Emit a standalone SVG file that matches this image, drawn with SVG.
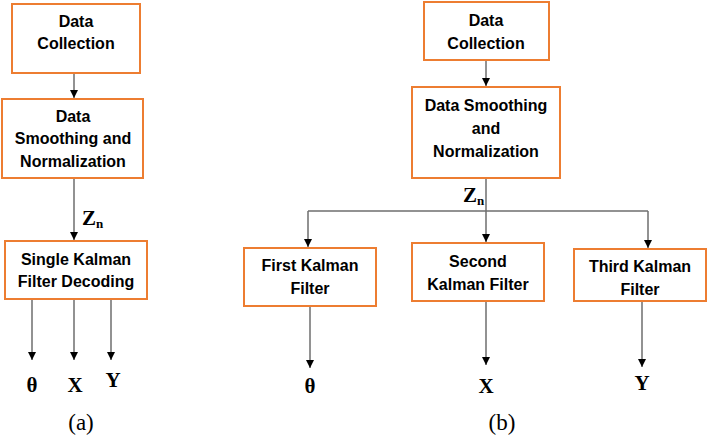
<svg xmlns="http://www.w3.org/2000/svg" width="708" height="440" viewBox="0 0 708 440">
<defs>
<marker id="ah" viewBox="0 0 10 10" refX="10" refY="5" markerWidth="8" markerHeight="8" markerUnits="userSpaceOnUse" orient="auto">
<path d="M0,0 L10,5 L0,10 z" fill="#000"/>
</marker>
<style>
.box{fill:#fff;stroke:#ED7D31;stroke-width:2}
.t{font-family:"Liberation Sans",Arial,sans-serif;font-weight:bold;font-size:16px;fill:#000;text-anchor:middle}
.c{fill:none;stroke:#6e6e6e;stroke-width:1.5}
.a{marker-end:url(#ah)}
.g{font-family:"Liberation Serif","Times New Roman",serif;font-weight:bold;font-size:21px;fill:#000;text-anchor:middle}
.s{font-family:"Liberation Serif","Times New Roman",serif;font-weight:bold;font-size:13px}
.cap{font-family:"Liberation Serif","Times New Roman",serif;font-size:23px;fill:#000;text-anchor:middle}
</style>
</defs>
<rect width="708" height="440" fill="#fff"/>

<g id="connectors">
<line class="c a" x1="74" y1="73" x2="74" y2="98"/>
<line class="c a" x1="74" y1="178" x2="74" y2="240"/>
<line class="c a" x1="32" y1="299" x2="32" y2="360"/>
<line class="c a" x1="74" y1="299" x2="74" y2="360"/>
<line class="c a" x1="111" y1="299" x2="111" y2="360"/>

<line class="c a" x1="486" y1="60" x2="486" y2="86"/>
<line class="c a" x1="486" y1="178" x2="486" y2="242"/>
<polyline class="c a" points="308,211 308,211 308,247"/>
<line class="c" x1="308" y1="211" x2="648" y2="211"/>
<line class="c a" x1="648" y1="211" x2="648" y2="248"/>
<line class="c a" x1="310" y1="306" x2="310" y2="368"/>
<line class="c a" x1="486" y1="301" x2="486" y2="365"/>
<line class="c a" x1="642" y1="301" x2="642" y2="367"/>
</g>

<g id="a-collection">
<rect class="box" x="12" y="4" width="128" height="69"/>
<text class="t" x="76" y="27">Data</text>
<text class="t" x="76" y="49">Collection</text>
</g>
<g id="a-smoothing">
<rect class="box" x="2" y="99" width="141" height="79"/>
<text class="t" x="73" y="122">Data</text>
<text class="t" x="73" y="144">Smoothing and</text>
<text class="t" x="73" y="167">Normalization</text>
</g>
<g id="a-zn">
<text x="82" y="225" font-family="Liberation Serif,serif" font-weight="bold" font-size="21">Z<tspan class="s" dy="3">n</tspan></text>
</g>
<g id="a-kalman">
<rect class="box" x="5" y="241" width="142" height="58"/>
<text class="t" x="76" y="265">Single Kalman</text>
<text class="t" x="76" y="287">Filter Decoding</text>
</g>
<g id="a-outputs">
<text class="g" x="32" y="392">θ</text>
<text class="g" x="75" y="392">X</text>
<text class="g" x="113" y="387">Y</text>
</g>
<text class="cap" x="81" y="430">(a)</text>

<g id="b-collection">
<rect class="box" x="424" y="2" width="125" height="58"/>
<text class="t" x="486" y="26">Data</text>
<text class="t" x="486" y="49">Collection</text>
</g>
<g id="b-smoothing">
<rect class="box" x="412" y="87" width="148" height="91"/>
<text class="t" x="486" y="111">Data Smoothing</text>
<text class="t" x="486" y="134">and</text>
<text class="t" x="486" y="157">Normalization</text>
</g>
<g id="b-zn">
<text x="463" y="202" font-family="Liberation Serif,serif" font-weight="bold" font-size="21">Z<tspan class="s" dy="3">n</tspan></text>
</g>
<g id="b-first">
<rect class="box" x="244" y="248" width="132" height="58"/>
<text class="t" x="310" y="271">First Kalman</text>
<text class="t" x="310" y="294">Filter</text>
</g>
<g id="b-second">
<rect class="box" x="412" y="243" width="132" height="58"/>
<text class="t" x="478" y="267">Second</text>
<text class="t" x="478" y="290">Kalman Filter</text>
</g>
<g id="b-third">
<rect class="box" x="574" y="249" width="132" height="52"/>
<text class="t" x="640" y="272">Third Kalman</text>
<text class="t" x="640" y="295">Filter</text>
</g>
<g id="b-outputs">
<text class="g" x="310" y="393">θ</text>
<text class="g" x="486" y="393">X</text>
<text class="g" x="642" y="390">Y</text>
</g>
<text class="cap" x="502" y="430">(b)</text>
</svg>
